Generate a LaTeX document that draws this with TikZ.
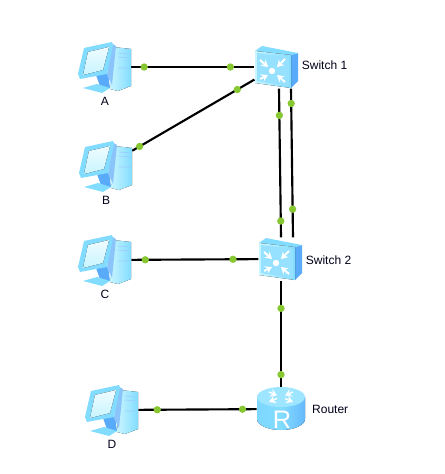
\documentclass[tikz,border=0pt]{standalone}
\usepackage{fontspec}
\setmainfont{Liberation Sans}
\usetikzlibrary{arrows.meta, positioning, calc}
\definecolor{icoA}{RGB}{200,245,255}
\definecolor{icoB}{RGB}{130,220,255}
\definecolor{icoC}{RGB}{90,170,250}
\definecolor{linkdot}{RGB}{135,200,50}
\tikzset{
  pcbox/.style={minimum width=39pt, minimum height=38pt, inner sep=0pt},
  swbox/.style={minimum width=32pt, minimum height=32pt, inner sep=0pt},
  rtbox/.style={minimum width=36pt, minimum height=32pt, inner sep=0pt},
  lnk/.style={line width=1.6pt, black},
  gdot/.style={circle, fill=linkdot, minimum size=5.5pt, inner sep=0pt},
  lbl/.style={font=\fontsize{9}{10}\selectfont, inner sep=0pt, text=black!90!blue},
  wht/.style={white, line width=1.5pt, -{Stealth[length=5pt,width=6pt]}},
  pcicon/.pic={
    % tower
    \fill[left color=icoA, right color=icoB] (8,-20) -- (26,-18) -- (26,19) -- (13,24) -- (5,22) -- cycle;
    \draw[icoC!60, line width=.5pt] (13,-14) -- (25,-13) (13,-10) -- (25,-9) (13,1) -- (25,1);
    % stand
    \fill[icoC] (-9,8) -- (3,6) -- (5,21) -- (-4,22) -- cycle;
    \fill[icoB] (-22,21) -- (-8,17) -- (5,21) -- (-3,26) -- cycle;
    % monitor
    \fill[icoC!70] (6,-24) -- (11,-21) -- (7,18) -- (2,8) -- cycle;
    \fill[icoB] (-21,-19) -- (7,-25) -- (8,-22) -- (2,7) -- (-25,12) -- (-27,7) -- cycle;
    \fill[top color=white!70!icoA, bottom color=icoA] (-17,-15) -- (4,-20) -- (-2,3) -- (-22,8) -- cycle;
  },
  swicon/.pic={
    \fill[icoC] (15,-12) -- (22,-14) -- (22,14) -- (15,21) -- cycle;
    \fill[icoB] (-21,-16) -- (-14,-21) -- (22,-14) -- (15,-12) -- cycle;
    \fill[left color=icoA, right color=icoB] (-21,-16) -- (15,-12) -- (15,21) -- (-21,16) -- cycle;
    \fill[icoB!85] (-19,-14) -- (13,-10) -- (13,19) -- (-19,14) -- cycle;
    \fill[white] (-4,4) circle (3.2);
    \draw[wht] (-16,-7) -- (-8,0);
    \draw[wht] (9,-8) -- (1,0);
    \draw[wht] (-16,12) -- (-8,8);
    \draw[wht] (9,15) -- (1,8);
  },
  rticon/.pic={
    \fill[left color=icoB!90!icoC, right color=icoC!70!icoB, middle color=icoB]
      (-24,-12) -- (-24,10) arc[start angle=180, end angle=0, x radius=24, y radius=11] -- (24,-12) -- cycle;
    \fill[icoB!60!icoA] (0,-12) ellipse (24 and 10);
    \draw[wht, line width=1pt] (-12,-17) -- (-4,-13.5);
    \draw[wht, line width=1pt] (12,-17) -- (4,-13.5);
    \draw[wht, line width=1pt] (-4,-10.5) -- (-12,-7);
    \draw[wht, line width=1pt] (4,-10.5) -- (12,-7);
    \node[white, font=\fontsize{19}{19}\selectfont] (rtglyph) at (1,11) {R};
  }
}

\begin{document}
\begin{tikzpicture}[x=0.75pt, y=-0.75pt]
  \useasboundingbox (0,0) rectangle (445,474);

  \node[pcbox] (pca) at (105,67) {};
  \node[pcbox] (pcb) at (106,166) {};
  \node[pcbox] (pcc) at (105,260) {};
  \node[pcbox] (pcd) at (112,410) {};
  \node[swbox] (swa) at (276,67) {};
  \node[swbox] (swb) at (280,259) {};
  \node[rtbox] (rt)  at (281,409) {};

  \draw[lnk] (pca) -- node[gdot,pos=0.105]{} node[gdot,pos=0.805]{} (swa);
  \draw[lnk] (pcb) -- node[gdot,pos=0.06]{} node[gdot,pos=0.86]{} (swa);
  \draw[lnk] (pcc) -- node[gdot,pos=0.11]{} node[gdot,pos=0.80]{} (swb);
  \draw[lnk] (pcd) -- node[gdot,pos=0.16]{} node[gdot,pos=0.88]{} (rt);

  \draw[lnk] ($(swa.south)+(3,0)$) -- node[gdot,pos=0.18]{} node[gdot,pos=0.89]{} ($(swb.north)+(1,0)$);
  \draw[lnk] ($(swa.south)+(15,0)$) -- node[gdot,pos=0.10]{} node[gdot,pos=0.81]{} ($(swb.north)+(13,0)$);
  \draw[lnk] ($(swb.south)+(1,0)$) -- node[gdot,pos=0.26]{} node[gdot,pos=0.88]{} (rt.north);

  \pic at (pca) {pcicon};
  \pic at (pcb) {pcicon};
  \pic at (pcc) {pcicon};
  \pic at (pcd) {pcicon};
  \pic at (swa) {swicon};
  \pic at (swb) {swicon};
  \pic at (rt)  {rticon};

  \node[lbl, below=3pt of pca] (lbla) {A};
  \node[lbl, below=3pt of pcb] (lblb) {B};
  \node[lbl, below=3pt of pcc] (lblc) {C};
  \node[lbl, below=3pt of pcd] (lbld) {D};
  \node[lbl, right=3pt of swa, yshift=1pt] (lblsa) {Switch 1};
  \node[lbl, right=3pt of swb, yshift=-1pt] (lblsb) {Switch 2};
  \node[lbl, right=5pt of rt]  (lblrt) {Router};
\end{tikzpicture}
\end{document}
